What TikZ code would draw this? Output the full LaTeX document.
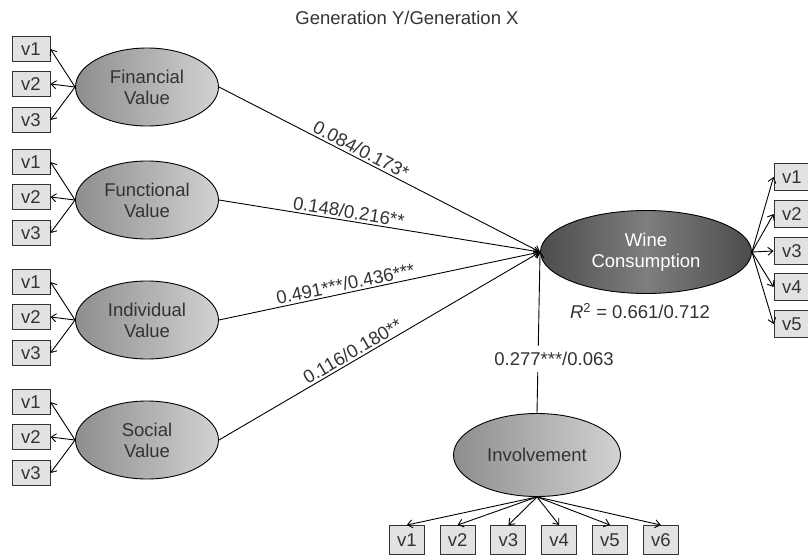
\documentclass[tikz,border=0pt]{standalone}
\usepackage{fontspec}
\setmainfont{Liberation Sans}
\usepackage{tikz}
\usetikzlibrary{arrows.meta}
\usetikzlibrary{shapes.geometric}
\definecolor{boxbg}{HTML}{E2E2E2}
\definecolor{latentdark}{HTML}{8E8E8E}
\definecolor{latentlight}{HTML}{D2D2D2}
\definecolor{winedark}{HTML}{4C4C4C}
\definecolor{winemid}{HTML}{7E7E7E}
\definecolor{inkgray}{HTML}{333333}

\begin{document}
\begin{tikzpicture}[x=1pt, y=-1pt,
-{Straight Barb[length=5pt,width=8pt]}, line width=0.9pt,
every node/.style = {font=\fontsize{18.5}{21}\selectfont, text=inkgray},
latent/.style = {
  shape=ellipse, draw, line width=0.9pt, align=center, inner sep=0pt,
  minimum width=143pt, minimum height=78pt,
  left color=latentdark, right color=latentlight
},
outcome/.style = {
  latent, minimum width=211pt, minimum height=83pt, text=white,
  left color=winedark, right color=winedark, middle color=winemid
},
indicator/.style = {
  shape=rectangle, draw=inkgray, line width=0.9pt, fill=boxbg, inner sep=0pt,
  minimum width=38pt, minimum height=25pt
},
coef/.style = {sloped, above, inner sep=2pt}
]
\useasboundingbox (0,0) rectangle (808,556);

\node (title) at (407,18) {Generation Y/Generation X};

\node [latent] (fin) at (147,87) {Financial\\Value};
\node [latent] (fun) at (147,200) {Functional\\Value};
\node [latent] (ind) at (147,320) {Individual\\Value};
\node [latent] (soc) at (147,440) {Social\\Value};
\node [outcome] (wine) at (646,252) {Wine\\Consumption};
\node [latent, minimum width=167pt, minimum height=83pt] (inv) at (537,455) {Involvement};

\foreach \lv/\ly in {fin/87, fun/200, ind/320, soc/440} {
  \foreach \k/\dy in {1/-38, 2/-3, 3/33} {
    \node [indicator] (\lv v\k) at (31,\ly+\dy) {v\k};
    \draw (\lv.west) -- (\lv v\k.east);
  }
}

\foreach \k/\wy in {1/177, 2/214, 3/251, 4/287, 5/324} {
  \node [indicator, minimum width=36pt, minimum height=27pt] (wine v\k) at (792,\wy) {v\k};
  \draw (wine.east) -- (wine v\k.west);
}

\foreach \k in {1,...,6} {
  \node [indicator, minimum width=35pt, minimum height=29pt] (inv v\k) at (356+50.8*\k,540) {v\k};
  \draw (inv.south) -- (inv v\k.north);
}

\draw (fin.east) -- node [coef, pos=0.43] {0.084/0.173*} (wine.west);
\draw (fun.east) -- node [coef, pos=0.40] {0.148/0.216**} (wine.west);
\draw (ind.east) -- node [coef, pos=0.40] {0.491***/0.436***} (wine.west);
\draw (soc.east) -- node [coef, pos=0.43] {0.116/0.180**} (wine.west);
\draw (inv.north) -- (wine.west);
\node [fill=white, inner xsep=1pt, inner ysep=6pt] (invcoef) at (554,359) {0.277***/0.063};

\node (rsq) at (640,311) {\textit{R}\textsuperscript{2} = 0.661/0.712};

\end{tikzpicture}
\end{document}
